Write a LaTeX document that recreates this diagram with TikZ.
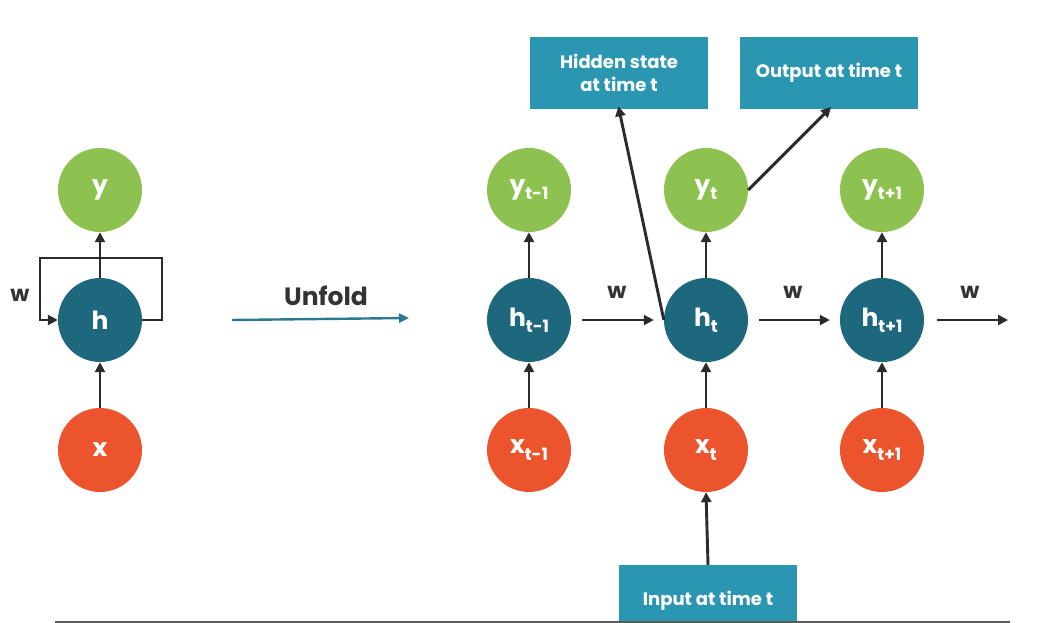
\documentclass[tikz,border=0pt]{standalone}
\usepackage{fontspec}
\setmainfont{Poppins}
\usetikzlibrary{arrows.meta}
\definecolor{ygreen}{HTML}{8DC150}
\definecolor{hteal}{HTML}{1E687E}
\definecolor{xorange}{HTML}{EC542D}
\definecolor{boxblue}{HTML}{2A96B2}
\definecolor{arrowc}{HTML}{2B2B2B}
\definecolor{labc}{HTML}{333333}
\definecolor{unfoldc}{HTML}{2A7990}
\definecolor{rulec}{HTML}{5A5A5A}
\tikzset{
	cell/.style={circle,minimum size=84pt,inner sep=0pt,text=white,font=\bfseries\fontsize{25}{25}\selectfont},
	ynode/.style={cell,fill=ygreen},
	hnode/.style={cell,fill=hteal},
	xnode/.style={cell,fill=xorange},
	note/.style={fill=boxblue,text=white,minimum width=178pt,minimum height=72pt,inner sep=0pt,align=center,font=\bfseries\fontsize{18}{23}\selectfont},
	link/.style={draw=arrowc,line width=2.9pt,-{Triangle[length=10pt,width=10pt]}},
	wlab/.style={text=labc,font=\bfseries\fontsize{22}{22}\selectfont}
}
\newcommand{\tsub}[1]{\raisebox{-0.45ex}{\fontsize{17}{17}\selectfont #1}}

\begin{document}
\begin{tikzpicture}[x=1pt,y=-1pt]
	\useasboundingbox (0,0) rectangle (1051,623);
	\clip (0,0) rectangle (1051,623);
	% folded cell
	\node[ynode] (y) at (100,190) {y};
	\node[hnode] (h) at (100,320) {h};
	\node[xnode] (x) at (100,450) {x};
	\draw[link] (x) -- (h);
	\draw[link] (h) -- (y);
	\draw[link] (h.east) -- (162,320) |- (40,258) -- (40,320) -- (h.west);
	\node[wlab] (w0) at (20,295) {w};
	% unfold arrow
	\coordinate (u1) at (232,320);
	\coordinate (u2) at (409,318);
	\node[text=labc,font=\bfseries\fontsize{25}{25}\selectfont] (unf) at (326,296) {Unfold};
	\draw[draw=unfoldc,line width=2.4pt,-{Triangle[length=10pt,width=9pt]}] (u1) -- (u2);
	% unfolded cells
	\foreach \n/\cx/\s in {a/529/{t-1},b/706/t,c/882/{t+1}}{
		\node[ynode] (y\n) at (\cx,190) {y\tsub{\s}};
		\node[hnode] (h\n) at (\cx,320) {h\tsub{\s}};
		\node[xnode] (x\n) at (\cx,450) {x\tsub{\s}};
		\draw[link] (x\n) -- (h\n);
		\draw[link] (h\n) -- (y\n);
	}
	\coordinate (hend) at (1008,320);
	\draw[link,shorten <=11pt,shorten >=10pt] (ha) -- (hb);
	\draw[link,shorten <=11pt,shorten >=10pt] (hb) -- (hc);
	\draw[link,shorten <=13pt] (hc.east) -- (hend);
	\node[wlab] (w1) at (617,292) {w};
	\node[wlab] (w2) at (793,292) {w};
	\node[wlab] (w3) at (970,292) {w};
	% notes
	\node[note] (hid) at (619,73) {Hidden state\\at time t};
	\node[note] (out) at (829,73) {Output at time t};
	\node[note] (inp) at (708,601) {Input at time t};
	\draw[link,shorten >=-3pt] (hb.west) -- (hid.south);
	\draw[link,shorten >=-3pt] (yb.east) -- (out.south);
	\draw[link] (inp.north) -- (xb.south);
	% bottom rule
	\draw[rulec,line width=3pt] (55,622) -- (1010,622);
\end{tikzpicture}
\end{document}
